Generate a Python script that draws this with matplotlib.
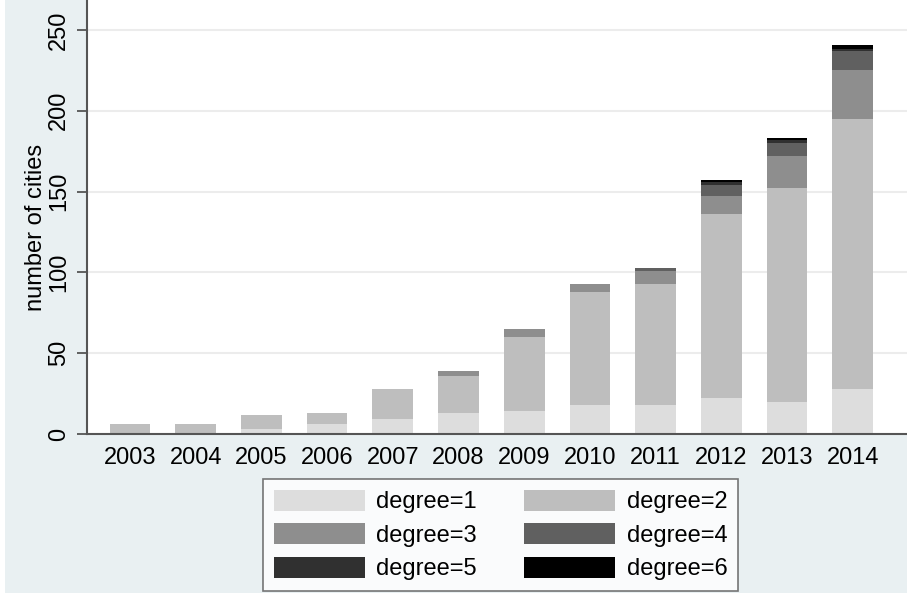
import matplotlib
matplotlib.use("Agg")
import matplotlib.pyplot as plt
from matplotlib.patches import Rectangle
import numpy as np

plt.rcParams['font.family'] = ['Liberation Sans', 'DejaVu Sans']

years = ["2003", "2004", "2005", "2006", "2007", "2008", "2009", "2010", "2011", "2012", "2013", "2014"]
degree1 = [0, 0, 3, 6, 9, 13, 14, 18, 18, 22, 20, 28]
degree2 = [6, 6, 9, 7, 19, 23, 46, 70, 75, 114, 132, 167]
degree3 = [0, 0, 0, 0, 0, 3, 5, 5, 8, 11, 20, 30]
degree4 = [0, 0, 0, 0, 0, 0, 0, 0, 2, 7, 8, 12]
degree5 = [0, 0, 0, 0, 0, 0, 0, 0, 0, 2, 2, 1]
degree6 = [0, 0, 0, 0, 0, 0, 0, 0, 0, 1, 1, 3]
labels = ["degree=1", "degree=2", "degree=3", "degree=4", "degree=5", "degree=6"]
colors = ["#dddddd", "#bebebe", "#8e8e8e", "#606060", "#303030", "#000000"]
series = [degree1, degree2, degree3, degree4, degree5, degree6]

W, H = 907, 600
FS = 17
fig = plt.figure(figsize=(W / 100, H / 100), dpi=100, facecolor="white")
bg = Rectangle((5 / W, 7 / H), 1 - 5 / W, 1 - 7 / H,
               transform=fig.transFigure, facecolor="#e9f0f2",
               edgecolor="none", zorder=-10)
fig.add_artist(bg)

ax = fig.add_axes([87 / W, 1 - 434 / H, 1 - 87 / W, 434 / H])
ax.set_facecolor("white")
ax.set_zorder(1)

x = np.arange(len(years))
bottom = np.zeros(len(years))
handles = []
for vals, c, lab in zip(series, colors, labels):
    v = np.array(vals, dtype=float)
    b = ax.bar(x, v, width=0.62, bottom=bottom, color=c, label=lab, zorder=2, linewidth=0)
    handles.append(b)
    bottom += v

ax.set_ylim(0, 434 / 1.616)
ax.set_xlim((87 - 130) / 65.7, (907 - 130) / 65.7)
ax.set_yticks([0, 50, 100, 150, 200, 250])
ax.set_yticklabels(["0", "50", "100", "150", "200", "250"], rotation=90, va="center", fontsize=FS)
ax.set_xticks(x)
ax.set_xticklabels(years, fontsize=FS)
ax.tick_params(axis="x", length=0, pad=9)
ax.tick_params(axis="y", length=7, width=1.3, color="#555555", pad=5)
for yv in [50, 100, 150, 200, 250]:
    ax.axhline(yv, color="#ececec", linewidth=1.5, zorder=1)

for s in ["top", "right"]:
    ax.spines[s].set_visible(False)
for s in ["left", "bottom"]:
    ax.spines[s].set_color("#555555")
    ax.spines[s].set_linewidth(1.5)

ax.set_ylabel("number of cities", fontsize=FS, labelpad=1)
ax.yaxis.label.set_y(0.475)

order = [0, 2, 4, 1, 3, 5]
leg = ax.legend(handles=[handles[i] for i in order], labels=[labels[i] for i in order],
                ncol=2, loc="upper left",
                bbox_to_anchor=(263 / W, 1 - 479 / H), bbox_transform=fig.transFigure,
                borderaxespad=0, fontsize=FS, frameon=True, fancybox=False,
                handlelength=3.85, handleheight=1.0, handletextpad=0.5,
                labelspacing=0.42, columnspacing=2.0, borderpad=0.45)
leg.get_frame().set_edgecolor("#555555")
leg.get_frame().set_linewidth(1.2)

fig.savefig("out.png", dpi=100, facecolor=fig.get_facecolor())
